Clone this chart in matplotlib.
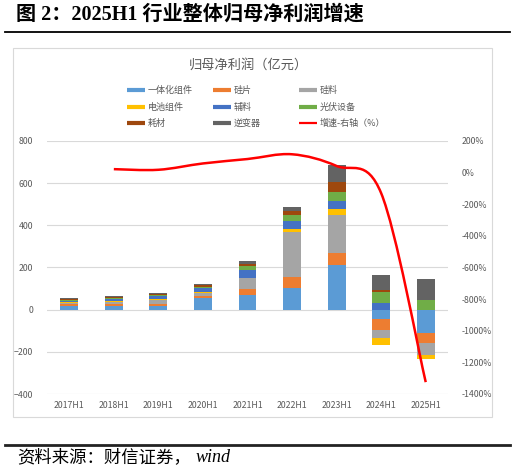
import numpy as np
import matplotlib
matplotlib.use("Agg")
import matplotlib.pyplot as plt
from matplotlib.path import Path
from matplotlib.patches import PathPatch, Rectangle
from matplotlib.lines import Line2D

plt.rcParams['font.family'] = ['Noto Sans CJK SC', 'DejaVu Sans']

# ---------------- data ----------------
categories = ['2017H1', '2018H1', '2019H1', '2020H1', '2021H1',
              '2022H1', '2023H1', '2024H1', '2025H1']
series_names = ['一体化组件', '硅片', '硅料', '电池组件', '辅料', '光伏设备', '耗材', '逆变器']
integrated = [18, 17, 19, 55, 70, 104, 213, -44, -110]
wafer      = [8, 10, 9, 10, 28, 49, 57, -54, -47]
polysilicon = [7, 10, 17, 14, 50, 216, 177, -38, -60]
cell       = [5, 5, 6, 5, 2, 14, 32, -30, -16]
auxiliary  = [5, 7, 13, 19, 38, 39, 35, 32, 0]
equipment  = [4, 6, 6, 6, 19, 28, 46, 54, 44]
consumables = [4, 6, 3, 6, 8, 16, 47, 6, 0]
inverter   = [4, 5, 5, 8, 16, 22, 77, 71, 101]
growth_cats = ['2018H1', '2019H1', '2020H1', '2021H1', '2022H1', '2023H1', '2024H1', '2025H1']
growth = [22, 18, 58, 86, 116, 42, -130, -1325]

series_values = [integrated, wafer, polysilicon, cell, auxiliary, equipment, consumables, inverter]
colors = ['#5B9BD5', '#ED7D31', '#A5A5A5', '#FFC000', '#4472C4', '#70AD47', '#9E480E', '#636363']
line_color = '#FF0000'
line_label = '增速-右轴（%）'
gray_txt = '#595959'

# ---------------- figure ----------------
fig = plt.figure(figsize=(5.15, 4.68), dpi=100)
W, H = 515, 468

def fx(px):
    return px / W

def fy(py):
    return 1 - py / H

# header / footer
fig.text(fx(16), fy(15), '图 2：2025H1 行业整体归母净利润增速', fontsize=14.5, fontweight='bold',
         family=['Liberation Serif', 'Noto Sans CJK SC'], ha='left', va='center', color='black')
fig.add_artist(Line2D([fx(5), fx(510)], [fy(31.5), fy(31.5)], color='black', lw=1.3))
fig.add_artist(Line2D([fx(5), fx(510)], [fy(445), fy(445)], color='#222222', lw=2.0))
fig.text(fx(17), fy(458), '资料来源：财信证券，', fontsize=12.5, style='italic',
         family=['Liberation Serif', 'Noto Sans CJK SC'], ha='left', va='center', color='black')
fig.text(fx(196), fy(458), 'wind', fontsize=13, style='italic',
         family=['Liberation Serif'], ha='left', va='center', color='black')

# chart frame
fig.add_artist(Rectangle((fx(13), fy(417)), fx(492) - fx(13), fy(48) - fy(417),
                         transform=fig.transFigure, fill=False, edgecolor='#D9D9D9', lw=0.8))

fig.text(fx(248), fy(65), '归母净利润（亿元）', fontsize=9.5, color=gray_txt, ha='center', va='center')

# legend (manual, 3 columns)
legend_labels = series_names + [line_label]
legend_colors = colors + [line_color]
col_x = [127, 213, 299]
row_y = [90, 107, 123]
for k, (lab, col) in enumerate(zip(legend_labels, legend_colors)):
    r, c = divmod(k, 3)
    x0 = col_x[c]
    y0 = row_y[r]
    lw = 3.0 if k < 8 else 1.6
    fig.add_artist(Line2D([fx(x0), fx(x0 + 18)], [fy(y0), fy(y0)], color=col, lw=lw,
                          solid_capstyle='butt'))
    fig.text(fx(x0 + 21), fy(y0), lab, fontsize=6.5, color=gray_txt, ha='left', va='center')

# axes
ax = fig.add_axes([fx(47), fy(394), fx(448) - fx(47), fy(141) - fy(394)])
x = np.arange(len(categories))
pos_bottom = np.zeros(len(categories))
neg_bottom = np.zeros(len(categories))
for name, vals, col in zip(series_names, series_values, colors):
    v = np.array(vals, dtype=float)
    bottom = np.where(v >= 0, pos_bottom, neg_bottom)
    ax.bar(x, v, width=0.4, bottom=bottom, color=col, edgecolor='none', linewidth=0,
           label=name, zorder=3)
    pos_bottom += np.where(v >= 0, v, 0)
    neg_bottom += np.where(v < 0, v, 0)

ax.set_ylim(-400, 800)
ax.set_yticks(np.arange(-400, 801, 200))
ax.set_xlim(-0.5, len(categories) - 0.5)
ax.set_xticks(x)
ax.set_xticklabels(categories)
ax.grid(axis='y', color='#D9D9D9', lw=0.8, zorder=0)
ax.set_axisbelow(True)
for s in ax.spines.values():
    s.set_visible(False)
ax.tick_params(axis='both', length=0, labelsize=6.3, labelcolor=gray_txt)
ax.tick_params(axis='y', pad=10)
ax.tick_params(axis='x', pad=5)
ax.patch.set_alpha(0)

ax2 = ax.twinx()
ax2.set_ylim(-1400, 200)
ax2.set_yticks(np.arange(-1400, 201, 200))
ax2.set_yticklabels([f'{int(t)}%' for t in np.arange(-1400, 201, 200)])
for s in ax2.spines.values():
    s.set_visible(False)
ax2.tick_params(axis='y', length=0, labelsize=6.3, labelcolor=gray_txt, pad=10)

# smoothed growth line (Catmull-Rom style bezier, like Excel smoothing)
gx = np.array([categories.index(c) for c in growth_cats], dtype=float)
gy = np.array(growth, dtype=float)
pts = np.column_stack([gx, gy])
verts = [tuple(pts[0])]
codes = [Path.MOVETO]
n = len(pts)
for i in range(n - 1):
    p0 = pts[i - 1] if i > 0 else pts[i]
    p1 = pts[i]
    p2 = pts[i + 1]
    p3 = pts[i + 2] if i + 2 < n else pts[i + 1]
    c1 = p1 + (p2 - p0) / 6.0
    c2 = p2 - (p3 - p1) / 6.0
    verts += [tuple(c1), tuple(c2), tuple(p2)]
    codes += [Path.CURVE4, Path.CURVE4, Path.CURVE4]
ax2.add_patch(PathPatch(Path(verts, codes), facecolor='none', edgecolor=line_color,
                        lw=1.8, zorder=5, capstyle='butt'))

fig.savefig('out.png', dpi=100)
